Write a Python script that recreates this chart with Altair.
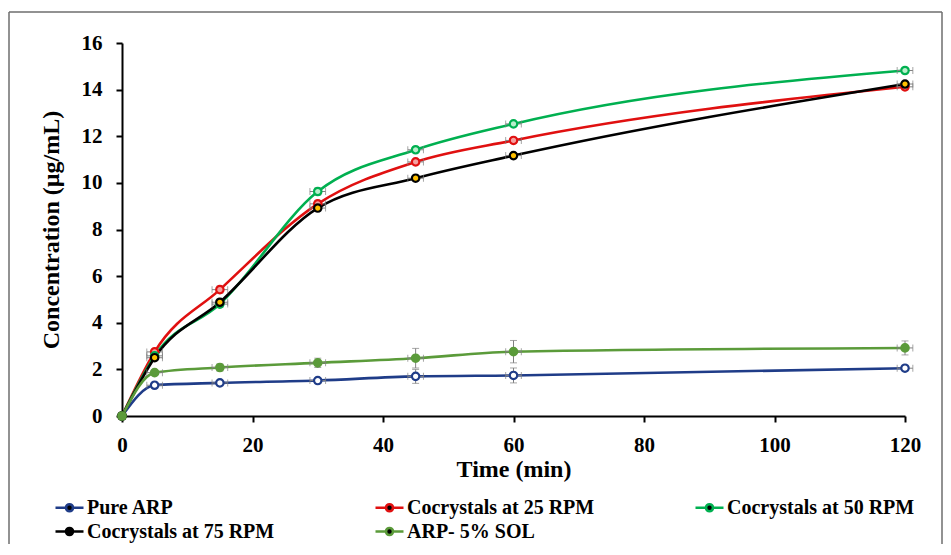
import altair as alt
import pandas as pd

# ---- data ----
time_min = [0, 5, 15, 30, 45, 60, 120]
series_names = ["Pure ARP", "Cocrystals at 25 RPM", "Cocrystals at 50 RPM",
                "Cocrystals at 75 RPM", "ARP- 5% SOL"]
pure_arp = [0, 1.32, 1.42, 1.52, 1.70, 1.74, 2.05]
pure_arp_sd = [0, 0.08, 0.08, 0.10, 0.30, 0.32, 0.10]
coc_25 = [0, 2.75, 5.42, 9.10, 10.90, 11.82, 14.12]
coc_25_sd = [0, 0.12, 0.15, 0.15, 0.10, 0.10, 0.10]
coc_50 = [0, 2.58, 4.80, 9.63, 11.42, 12.53, 14.82]
coc_50_sd = [0, 0.10, 0.12, 0.15, 0.10, 0.10, 0.08]
coc_75 = [0, 2.50, 4.88, 8.92, 10.20, 11.17, 14.24]
coc_75_sd = [0, 0.10, 0.10, 0.10, 0.08, 0.08, 0.08]
sol_5 = [0, 1.86, 2.08, 2.28, 2.48, 2.76, 2.92]
sol_5_sd = [0, 0.10, 0.15, 0.20, 0.42, 0.48, 0.30]
time_err = [0, 1.2, 1.2, 1.2, 1.2, 1.2, 1.2]

line_colors = ["#1F3C88", "#E01010", "#00B050", "#000000", "#5B9B3A"]
fill_colors = ["#FFFFFF", "#F4A0A0", "#B8EFCB", "#FFC000", "#5B9B3A"]

values = [pure_arp, coc_25, coc_50, coc_75, sol_5]
sds = [pure_arp_sd, coc_25_sd, coc_50_sd, coc_75_sd, sol_5_sd]

rows = []
for si, name in enumerate(series_names):
    for i, t in enumerate(time_min):
        v = values[si][i]
        s = sds[si][i]
        rows.append({
            "series": name, "order": si, "t": t, "v": v,
            "lo": v - s, "hi": v + s,
            "tlo": t - time_err[i], "thi": t + time_err[i],
            "fillc": fill_colors[si],
        })
df = pd.DataFrame(rows)

FONT = "Liberation Serif"

xs = alt.Scale(domain=[0, 120], nice=False, zero=False, padding=0)
ys = alt.Scale(domain=[0, 16], nice=False, padding=0)
color_scale = alt.Scale(domain=series_names, range=line_colors)

legend_path = ("M-1.4,0H-0.35M0.35,0H1.4M-0.35,0A0.35,0.35 0 1,0 0.35,0"
               "A0.35,0.35 0 1,0 -0.35,0Z")

base = alt.Chart(df)

lines = base.mark_line(interpolate="monotone", strokeWidth=2.6).encode(
    x=alt.X("t:Q", scale=xs, title="Time (min)",
            axis=alt.Axis(values=[0, 20, 40, 60, 80, 100, 120])),
    y=alt.Y("v:Q", scale=ys, title="Concentration (µg/mL)",
            axis=alt.Axis(values=[0, 2, 4, 6, 8, 10, 12, 14, 16])),
    color=alt.Color("series:N", scale=color_scale, sort=series_names,
                    legend=alt.Legend(
                        title=None, orient="none", legendX=-64, legendY=453,
                        direction="horizontal",
                        columns=3, columnPadding=95, rowPadding=2,
                        gridAlign="all", symbolType=legend_path,
                        symbolSize=400, symbolStrokeWidth=2.6,
                        symbolFillColor="white", labelFont=FONT,
                        labelFontWeight="bold", labelFontSize=20,
                        labelColor="black", labelOffset=6, labelLimit=0,
                        padding=0)),
    order=alt.Order("t:Q"),
)

err_color = "#808080"
vrule = base.mark_rule(color=err_color, strokeWidth=1).encode(
    x=alt.X("t:Q", scale=xs), y=alt.Y("lo:Q", scale=ys), y2="hi:Q")
vcap_lo = base.mark_tick(color=err_color, orient="horizontal", size=7,
                         thickness=1).encode(
    x=alt.X("t:Q", scale=xs), y=alt.Y("lo:Q", scale=ys))
vcap_hi = base.mark_tick(color=err_color, orient="horizontal", size=7,
                         thickness=1).encode(
    x=alt.X("t:Q", scale=xs), y=alt.Y("hi:Q", scale=ys))
hrule = base.mark_rule(color=err_color, strokeWidth=1).encode(
    x=alt.X("tlo:Q", scale=xs), x2="thi:Q", y=alt.Y("v:Q", scale=ys))
hcap_lo = base.mark_tick(color=err_color, orient="vertical", size=7,
                         thickness=1).encode(
    x=alt.X("tlo:Q", scale=xs), y=alt.Y("v:Q", scale=ys))
hcap_hi = base.mark_tick(color=err_color, orient="vertical", size=7,
                         thickness=1).encode(
    x=alt.X("thi:Q", scale=xs), y=alt.Y("v:Q", scale=ys))

points = base.mark_point(filled=False, size=55, strokeWidth=2.2,
                         opacity=1).encode(
    x=alt.X("t:Q", scale=xs),
    y=alt.Y("v:Q", scale=ys),
    color=alt.Color("series:N", scale=color_scale, sort=series_names),
    fill=alt.Fill("fillc:N", scale=None),
)

one = pd.DataFrame({"a": [0]})
border_color = "#6E6E6E"
b_left = alt.Chart(one).mark_rule(color=border_color, strokeWidth=1.5).encode(
    x=alt.value(-113), y=alt.value(-31), y2=alt.value(520))
b_top = alt.Chart(one).mark_rule(color=border_color, strokeWidth=1.5).encode(
    x=alt.value(-113), x2=alt.value(820), y=alt.value(-31))
b_right = alt.Chart(one).mark_rule(color=border_color, strokeWidth=1.5).encode(
    x=alt.value(820), y=alt.value(-31), y2=alt.value(520))

chart = alt.layer(
    b_left, b_top, b_right,
    lines, vrule, vcap_lo, vcap_hi, hrule, hcap_lo, hcap_hi, points
).properties(
    width=783, height=373,
    autosize=alt.AutoSizeParams(type="none"),
    padding={"left": 114, "top": 35, "right": 38, "bottom": 128},
).configure_view(
    stroke=None
).configure_axis(
    grid=False, labelFlush=False,
    domainColor="black", domainWidth=2,
    tickColor="black", tickWidth=2, tickSize=6,
    labelFont=FONT, labelFontWeight="bold", labelFontSize=21,
    labelColor="black",
    titleFont=FONT, titleFontWeight="bold", titleFontSize=24,
    titleColor="black",
).configure_axisY(
    labelPadding=14, titlePadding=18,
).configure_axisX(
    labelPadding=12, titlePadding=2,
)

chart.save("out.html", embed_options={"renderer": "svg", "actions": False})
